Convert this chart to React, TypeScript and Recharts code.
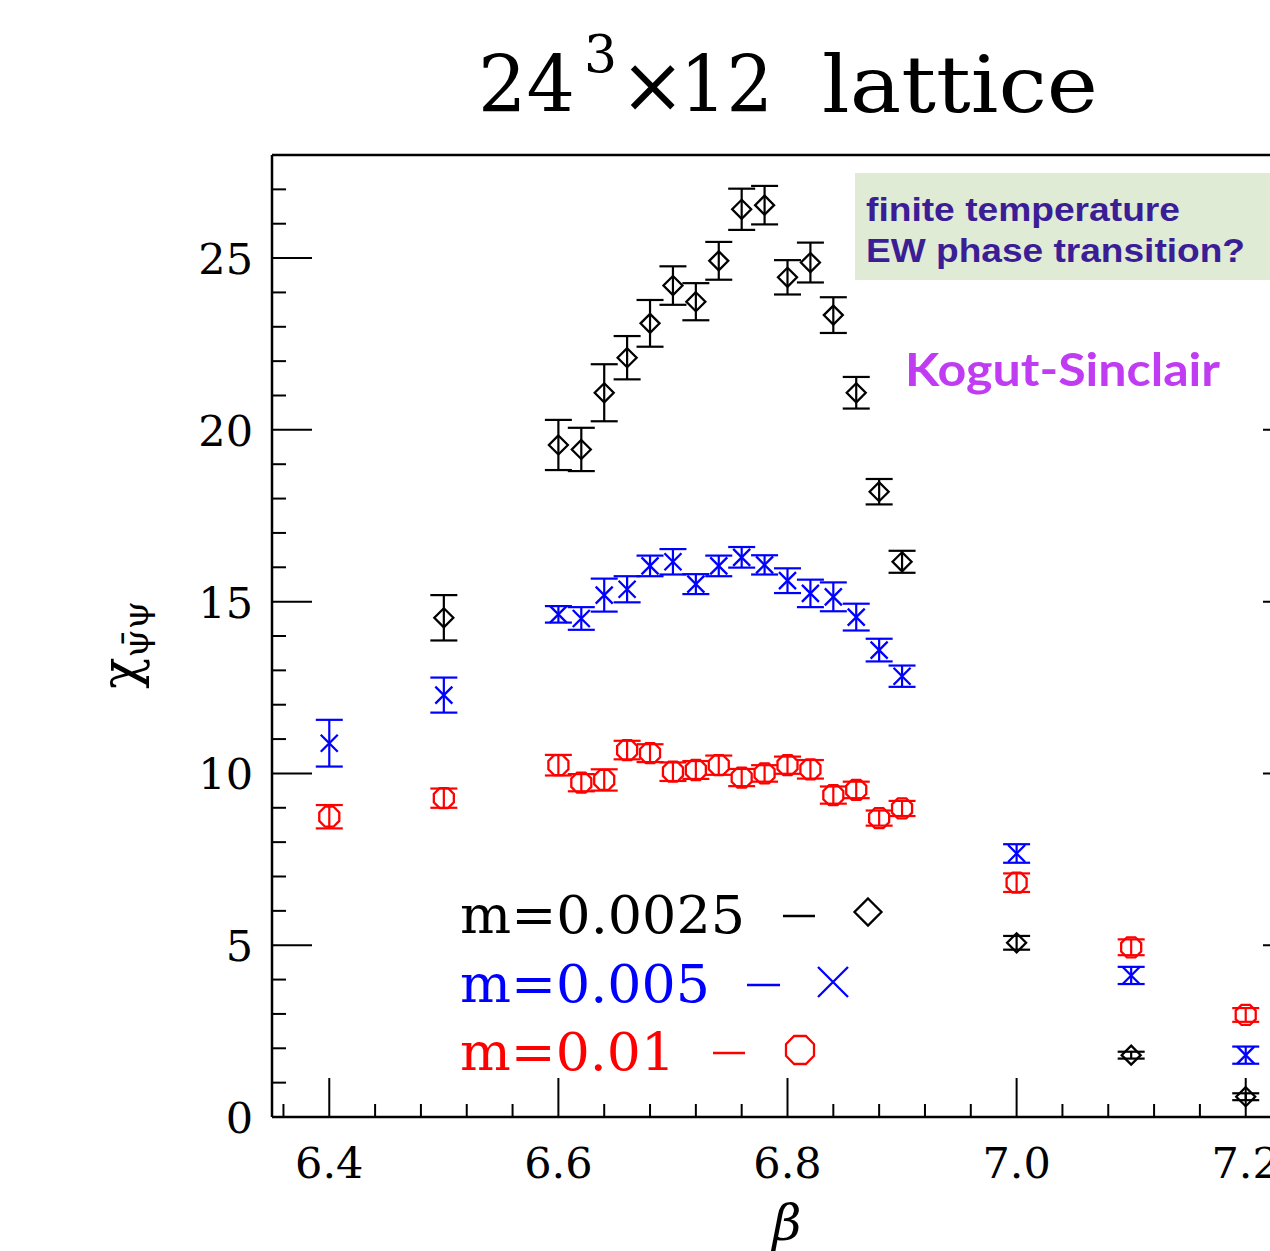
import React from "react";
import {
  ScatterChart,
  Scatter,
  XAxis,
  YAxis,
  ErrorBar,
  ReferenceLine,
} from "recharts";

// ---- data (beta, chi, error) ----

const betaBlack = [6.5, 6.6, 6.62, 6.64, 6.66, 6.68, 6.7, 6.72, 6.74, 6.76, 6.78, 6.8, 6.82, 6.84, 6.86, 6.88, 6.9, 7.0, 7.1, 7.2];
const chiBlack = [14.53, 19.56, 19.43, 21.08, 22.1, 23.1, 24.2, 23.73, 24.92, 26.42, 26.54, 24.44, 24.87, 23.34, 21.08, 18.2, 16.16, 5.07, 1.8, 0.59];
const errBlack = [0.66, 0.73, 0.63, 0.83, 0.63, 0.68, 0.56, 0.54, 0.55, 0.6, 0.56, 0.5, 0.58, 0.52, 0.46, 0.37, 0.32, 0.2, 0.1, 0.1];

const betaBlue = [6.4, 6.5, 6.6, 6.62, 6.64, 6.66, 6.68, 6.7, 6.72, 6.74, 6.76, 6.78, 6.8, 6.82, 6.84, 6.86, 6.88, 6.9, 7.0, 7.1, 7.2];
const chiBlue = [10.88, 12.28, 14.63, 14.51, 15.19, 15.36, 16.04, 16.16, 15.51, 16.04, 16.29, 16.07, 15.61, 15.24, 15.14, 14.55, 13.59, 12.83, 7.67, 4.12, 1.8];
const errBlue = [0.68, 0.51, 0.24, 0.33, 0.48, 0.38, 0.3, 0.37, 0.29, 0.3, 0.3, 0.28, 0.36, 0.4, 0.42, 0.39, 0.33, 0.31, 0.27, 0.25, 0.25];

const betaRed = [6.4, 6.5, 6.6, 6.62, 6.64, 6.66, 6.68, 6.7, 6.72, 6.74, 6.76, 6.78, 6.8, 6.82, 6.84, 6.86, 6.88, 6.9, 7.0, 7.1, 7.2];
const chiRed = [8.74, 9.28, 10.24, 9.73, 9.81, 10.68, 10.59, 10.05, 10.1, 10.24, 9.88, 10.0, 10.24, 10.12, 9.37, 9.52, 8.7, 8.98, 6.82, 4.94, 2.97];
const errRed = [0.34, 0.28, 0.3, 0.25, 0.31, 0.27, 0.26, 0.27, 0.26, 0.28, 0.25, 0.24, 0.25, 0.27, 0.25, 0.24, 0.22, 0.22, 0.27, 0.23, 0.2];

// axis ticks (minor + major)
const xTicks = [6.36, 6.4, 6.44, 6.48, 6.52, 6.56, 6.6, 6.64, 6.68, 6.72, 6.76, 6.8, 6.84, 6.88, 6.92, 6.96, 7.0, 7.04, 7.08, 7.12, 7.16, 7.2, 7.24];
const xMajor = [6.4, 6.6, 6.8, 7.0, 7.2];
const yTicks = [0, 1, 2, 3, 4, 5, 6, 7, 8, 9, 10, 11, 12, 13, 14, 15, 16, 17, 18, 19, 20, 21, 22, 23, 24, 25, 26, 27];
const yMajor = [0, 5, 10, 15, 20, 25];

const legendLabels = ["m=0.0025", "m=0.005", "m=0.01"];

const rows = (b: number[], c: number[], e: number[]) =>
  b.map((beta, i) => ({ beta, chi: c[i], err: e[i] }));

const blackData = rows(betaBlack, chiBlack, errBlack);
const blueData = rows(betaBlue, chiBlue, errBlue);
const redData = rows(betaRed, chiRed, errRed);

const SERIF = "'DejaVu Serif', serif";
const isMajorX = (v: number) => xMajor.some((m) => Math.abs(m - v) < 1e-6);

// ---- markers ----

const Diamond = ({ cx, cy, r = 9.5, color = "#000" }: any) => (
  <path
    d={`M${cx},${cy - r} L${cx + r},${cy} L${cx},${cy + r} L${cx - r},${cy} Z`}
    fill="none"
    stroke={color}
    strokeWidth={2.3}
  />
);

const Cross = ({ cx, cy, r = 8.5, color = "#0000ff" }: any) => (
  <path
    d={`M${cx - r},${cy - r} L${cx + r},${cy + r} M${cx - r},${cy + r} L${cx + r},${cy - r}`}
    fill="none"
    stroke={color}
    strokeWidth={2.3}
  />
);

const Octagon = ({ cx, cy, r = 10, color = "#ff0000" }: any) => {
  const a = r * 0.42;
  const d = `M${cx - a},${cy - r} L${cx + a},${cy - r} L${cx + r},${cy - a} L${cx + r},${cy + a} L${cx + a},${cy + r} L${cx - a},${cy + r} L${cx - r},${cy + a} L${cx - r},${cy - a} Z`;
  return <path d={d} fill="none" stroke={color} strokeWidth={2.3} />;
};

// ---- ticks ----

const XTick = (props: any) => {
  const { x, y, payload } = props;
  const major = isMajorX(payload.value);
  return (
    <g>
      <line x1={x} x2={x} y1={y} y2={y - (major ? 39 : 13)} stroke="#000" strokeWidth={2} />
      {major && (
        <text x={x} y={y + 61} textAnchor="middle" fontFamily={SERIF} fontSize={43} fill="#000">
          {payload.value.toFixed(1)}
        </text>
      )}
    </g>
  );
};

const YTickLeft = (props: any) => {
  const { x, y, payload } = props;
  const major = yMajor.includes(payload.value);
  return (
    <g>
      <line x1={x} x2={x + (major ? 40 : 14)} y1={y} y2={y} stroke="#000" strokeWidth={2} />
      {major && (
        <text x={x - 19} y={y + 16} textAnchor="end" fontFamily={SERIF} fontSize={43} fill="#000">
          {payload.value}
        </text>
      )}
    </g>
  );
};

const YTickRight = (props: any) => {
  const { x, y, payload } = props;
  const major = yMajor.includes(payload.value);
  return <line x1={x} x2={x - (major ? 40 : 14)} y1={y} y2={y} stroke="#000" strokeWidth={2} />;
};

export default function App() {
  return (
    <div
      style={{
        position: "fixed",
        left: 0,
        top: 0,
        width: 1270,
        height: 1251,
        overflow: "hidden",
        background: "#fff",
      }}
    >
      <ScatterChart
        width={1320}
        height={1251}
        margin={{ top: 155, right: 7, bottom: 54, left: 172 }}
      >
        <XAxis
          dataKey="beta"
          type="number"
          domain={[6.35, 7.25]}
          ticks={xTicks}
          interval={0}
          tickSize={0}
          tickMargin={0}
          height={80}
          axisLine={{ stroke: "#000", strokeWidth: 2.5 }}
          tickLine={false}
          tick={<XTick />}
          allowDataOverflow
        />
        <YAxis
          yAxisId="l"
          dataKey="chi"
          type="number"
          domain={[0, 28]}
          ticks={yTicks}
          interval={0}
          tickSize={0}
          tickMargin={0}
          width={100}
          axisLine={{ stroke: "#000", strokeWidth: 2.5 }}
          tickLine={false}
          tick={<YTickLeft />}
          allowDataOverflow
        />
        <YAxis
          yAxisId="r"
          orientation="right"
          type="number"
          domain={[0, 28]}
          ticks={yTicks}
          interval={0}
          tickSize={0}
          tickMargin={0}
          width={10}
          axisLine={{ stroke: "#000", strokeWidth: 2.5 }}
          tickLine={false}
          tick={<YTickRight />}
          allowDataOverflow
        />
        <ReferenceLine yAxisId="l" y={28} stroke="#000" strokeWidth={2.5} ifOverflow="visible" />

        <Scatter
          yAxisId="l"
          data={blackData}
          isAnimationActive={false}
          shape={(p: any) => <Diamond cx={p.cx} cy={p.cy} />}
        >
          <ErrorBar dataKey="err" direction="y" width={13.5} stroke="#000" strokeWidth={2.2} isAnimationActive={false} />
        </Scatter>
        <Scatter
          yAxisId="l"
          data={blueData}
          isAnimationActive={false}
          shape={(p: any) => <Cross cx={p.cx} cy={p.cy} />}
        >
          <ErrorBar dataKey="err" direction="y" width={13.5} stroke="#0000ff" strokeWidth={2.2} isAnimationActive={false} />
        </Scatter>
        <Scatter
          yAxisId="l"
          data={redData}
          isAnimationActive={false}
          shape={(p: any) => <Octagon cx={p.cx} cy={p.cy} />}
        >
          <ErrorBar dataKey="err" direction="y" width={13.5} stroke="#ff0000" strokeWidth={2.2} isAnimationActive={false} />
        </Scatter>
      </ScatterChart>

      {/* titles, legend and notes */}
      <svg
        width={1270}
        height={1251}
        style={{ position: "absolute", left: 0, top: 0, pointerEvents: "none" }}
      >
        <g fontFamily={SERIF} fill="#000">
          <text x={478} y={112} fontSize={78} textLength={97} lengthAdjust="spacingAndGlyphs">24</text>
          <text x={584} y={72} fontSize={52}>3</text>
          <text x={620} y={112} fontSize={78}>×</text>
          <text x={680} y={112} fontSize={78} textLength={93} lengthAdjust="spacingAndGlyphs">12</text>
          <text x={822} y={112} fontSize={78} textLength={276} lengthAdjust="spacingAndGlyphs">lattice</text>
        </g>

        <text x={787} y={1240} textAnchor="middle" fontFamily={SERIF} fontStyle="italic" fontSize={50}>
          β
        </text>

        <text transform="translate(138,645) rotate(-90)" textAnchor="middle" fontFamily={SERIF} fontSize={52}>
          χ
          <tspan fontSize={36} dy={10}>ψ̄ψ</tspan>
        </text>

        <rect x={855} y={173} width={420} height={107} fill="#dfebd5" />
        <g fontFamily="'Liberation Sans', Arial, sans-serif" fontWeight="bold" fill="#3b1e96" fontSize={34}>
          <text x={866} y={221} textLength={314} lengthAdjust="spacingAndGlyphs">finite temperature</text>
          <text x={866} y={262} textLength={379} lengthAdjust="spacingAndGlyphs">EW phase transition?</text>
        </g>
        <text
          x={905}
          y={386}
          fontFamily="Lato, 'Noto Sans', sans-serif"
          fontWeight="bold"
          fontSize={46}
          fill="#c03cf2"
          textLength={315}
          lengthAdjust="spacingAndGlyphs"
        >
          Kogut-Sinclair
        </text>

        <g fontFamily={SERIF} fontSize={52}>
          <text x={460} y={933} fill="#000" textLength={285} lengthAdjust="spacingAndGlyphs">{legendLabels[0]}</text>
          <line x1={783} x2={815} y1={916} y2={916} stroke="#000" strokeWidth={2.5} />
          <Diamond cx={868} cy={912} r={13.5} color="#000" />

          <text x={460} y={1002} fill="#0000ff" textLength={250} lengthAdjust="spacingAndGlyphs">{legendLabels[1]}</text>
          <line x1={747} x2={780} y1={985} y2={985} stroke="#0000ff" strokeWidth={2.5} />
          <Cross cx={833} cy={982} r={15} color="#0000ff" />

          <text x={460} y={1070} fill="#ff0000" textLength={215} lengthAdjust="spacingAndGlyphs">{legendLabels[2]}</text>
          <line x1={713} x2={745} y1={1053} y2={1053} stroke="#ff0000" strokeWidth={2.5} />
          <Octagon cx={800} cy={1050} r={14} color="#ff0000" />
        </g>
      </svg>
    </div>
  );
}
